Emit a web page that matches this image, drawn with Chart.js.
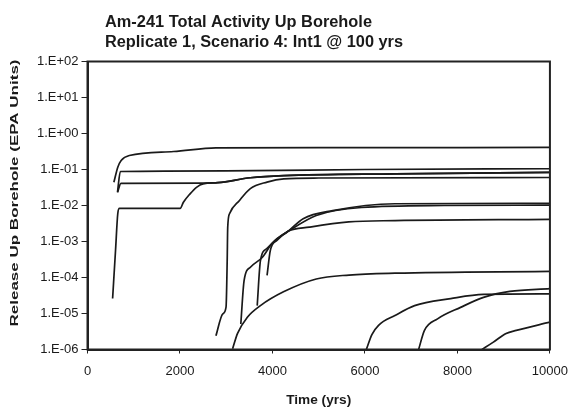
<!DOCTYPE html>
<html><head><meta charset="utf-8">
<script src="https://cdn.jsdelivr.net/npm/chart.js@4"></script>
<style>html,body{margin:0;padding:0;background:#fff}</style>
</head><body>
<canvas id="c" width="578" height="410"></canvas>
<script>
const titleLines = ["Am-241 Total Activity Up Borehole", "Replicate 1, Scenario 4: Int1 @ 100 yrs"];
const xTitle = "Time (yrs)";
const yTitle = "Release Up Borehole (EPA Units)";
const xTicks = [0, 2000, 4000, 6000, 8000, 10000];
const yTicks = [1e-6, 1e-5, 1e-4, 1e-3, 1e-2, 1e-1, 1e0, 1e1, 1e2];

// Time (yrs) and release values for each realization curve
const tA = [570, 655, 728, 904, 1862, 2777, 5000, 10000];
const vA = [0.044, 0.116, 0.178, 0.245, 0.316, 0.40, 0.405, 0.41];
const tB = [649, 711, 3000, 6000, 10000];
const vB = [0.024, 0.088, 0.092, 0.100, 0.105];
const tC = [649, 723, 2500, 2819, 3521, 4245, 6649, 10000];
const vC = [0.023, 0.041, 0.042, 0.043, 0.059, 0.068, 0.076, 0.083];
const tD = [543, 606, 655, 691, 2004, 2074, 2217, 2357, 2500, 2819, 3521, 4245, 6649, 10000];
const vD = [2.6e-5, 5.6e-4, 6.0e-3, 8.3e-3, 8.3e-3, 0.0123, 0.021, 0.032, 0.040, 0.043, 0.059, 0.068, 0.076, 0.083];
const tE = [2777, 2926, 2996, 3021, 3032, 3074, 3287, 3521, 3883, 4245, 5000, 10000];
const vE = [2.4e-6, 9.8e-6, 1.5e-5, 2.95e-4, 2.45e-3, 6.0e-3, 0.0138, 0.0295, 0.0447, 0.055, 0.058, 0.060];
const tF = [3315, 3387, 3528, 3777, 3989, 4345, 4664, 5302, 6649, 10000];
const vF = [5.1e-6, 8.3e-5, 1.95e-4, 3.6e-4, 8.7e-4, 1.95e-3, 4.3e-3, 7.2e-3, 0.0112, 0.0115];
const tG = [3670, 3740, 3883, 4096, 4345, 4947, 5926, 7713, 10000];
const vG = [1.66e-5, 2.95e-4, 6.4e-4, 1.2e-3, 1.95e-3, 5.3e-3, 8.8e-3, 0.0100, 0.0102];
const tH = [3883, 3953, 4096, 4345, 4798, 5649, 6649, 10000];
const vH = [1.14e-4, 5.6e-4, 1.07e-3, 1.95e-3, 2.5e-3, 3.5e-3, 3.8e-3, 4.1e-3];
const tI = [3138, 3245, 3457, 3740, 4238, 4947, 5655, 6649, 10000];
const vI = [1.05e-6, 2.8e-6, 7.9e-6, 1.66e-5, 4.0e-5, 9.1e-5, 1.17e-4, 1.32e-4, 1.48e-4];
const tJ = [6030, 6150, 6294, 6649, 7074, 7855, 8564, 10000];
const vJ = [1.0e-6, 2.6e-6, 4.7e-6, 8.8e-6, 1.66e-5, 2.6e-5, 3.4e-5, 3.5e-5];
const tK = [7160, 7287, 7570, 8068, 8564, 9132, 10000];
const vK = [1.0e-6, 3.4e-6, 7.1e-6, 1.48e-5, 2.8e-5, 4.1e-5, 4.9e-5];
const tL = [8530, 8777, 9053, 9272, 10000];
const vL = [1.0e-6, 1.6e-6, 2.8e-6, 3.4e-6, 5.75e-6];

const curves = [[tA,vA],[tB,vB],[tC,vC],[tD,vD],[tE,vE],[tF,vF],[tG,vG],[tH,vH],[tI,vI],[tJ,vJ],[tK,vK],[tL,vL]];

const FONT = '"Liberation Sans", Arial, Helvetica, sans-serif';
const INK = '#1a1a1a';

function fmtExp(v) {
  const e = Math.round(Math.log10(v));
  const s = e < 0 ? '-' : '+';
  return '1.E' + s + String(Math.abs(e)).padStart(2, '0');
}

function drawFit(ctx, text, x, y, target) {
  const w = ctx.measureText(text).width;
  const sx = target / w;
  ctx.save();
  ctx.translate(x, y);
  ctx.scale(sx, 1);
  ctx.fillText(text, 0, 0);
  ctx.restore();
}

const decor = {
  id: 'decor',
  afterDraw(chart) {
    const ctx = chart.ctx;
    const a = chart.chartArea;
    ctx.save();
    ctx.strokeStyle = '#222';
    ctx.lineWidth = 2;
    ctx.strokeRect(a.left, a.top, a.right - a.left, a.bottom - a.top);
    ctx.fillStyle = INK;
    ctx.textAlign = 'left';
    ctx.textBaseline = 'alphabetic';
    ctx.font = 'bold 16px ' + FONT;
    drawFit(ctx, titleLines[0], 105, 27, 267);
    drawFit(ctx, titleLines[1], 105, 47, 298);
    ctx.font = 'bold 12px ' + FONT;
    ctx.textAlign = 'center';
    ctx.textBaseline = 'middle';
    drawFit(ctx, xTitle, (a.left + a.right) / 2, 401, 65);
    ctx.save();
    ctx.translate(15, 193);
    ctx.rotate(-Math.PI / 2);
    ctx.font = 'bold 11px ' + FONT;
    drawFit(ctx, yTitle, 0, 0, 267);
    ctx.restore();
    ctx.restore();
  }
};

new Chart(document.getElementById('c'), {
  type: 'line',
  data: {
    datasets: curves.map(([t, v]) => ({
      data: t.map((x, i) => ({ x: x, y: v[i] })),
      borderColor: INK,
      borderWidth: 1.7,
      pointRadius: 0,
      fill: false,
      cubicInterpolationMode: 'monotone'
    }))
  },
  options: {
    responsive: false,
    animation: false,
    events: [],
    layout: { padding: { top: 61.5, right: 20.5, left: 0, bottom: 0 } },
    plugins: { legend: { display: false }, title: { display: false }, tooltip: { enabled: false } },
    scales: {
      x: {
        type: 'linear', min: 0, max: 10000,
        afterBuildTicks: s => { s.ticks = xTicks.map(v => ({ value: v })); },
        afterFit: s => { s.height = 60.5; },
        ticks: { color: INK, font: { family: FONT, size: 13 }, padding: 10, maxRotation: 0, autoSkip: false, callback: v => String(v) },
        grid: { drawOnChartArea: false, drawTicks: true, tickLength: 4, color: '#222', lineWidth: 1 },
        border: { display: true, color: '#222', width: 2 }
      },
      y: {
        type: 'logarithmic', min: 1e-6, max: 1e2,
        afterBuildTicks: s => { s.ticks = yTicks.map(v => ({ value: v })); },
        afterFit: s => { s.width = 87.5; },
        ticks: { color: INK, font: { family: FONT, size: 13 }, padding: 3, autoSkip: false, callback: v => fmtExp(v) },
        grid: { drawOnChartArea: false, drawTicks: true, tickLength: 6, color: '#222', lineWidth: 1 },
        border: { display: true, color: '#222', width: 2 }
      }
    }
  },
  plugins: [decor]
});
</script>
</body></html>
